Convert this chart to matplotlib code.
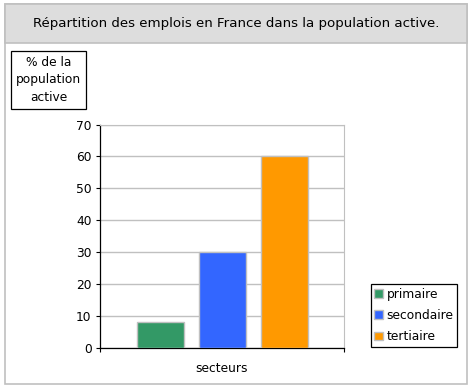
import matplotlib
matplotlib.use("Agg")
import matplotlib.pyplot as plt
import matplotlib.patches as mpatches

categories = ["primaire", "secondaire", "tertiaire"]
values = [8, 30, 60]
colors = ["#339966", "#3366ff", "#ff9900"]
yticks = [0, 10, 20, 30, 40, 50, 60, 70]

title = "Répartition des emplois en France dans la population active."
ylabel = "% de la\npopulation\nactive"
xlabel = "secteurs"

W, H = 472, 389
fs = 8.8
plt.rcParams.update({"font.family": "DejaVu Sans", "font.size": fs})
fig = plt.figure(figsize=(W / 100, H / 100), dpi=100)


def fx(px):
    return px / W


def fy(py):
    return 1 - py / H


gray = "#c0c0c0"

# outer frame and title band
fig.patches.append(mpatches.Rectangle((fx(5), fy(384)), fx(462), (384 - 4) / H,
                                      transform=fig.transFigure, facecolor="white",
                                      edgecolor=gray, linewidth=1.2, zorder=-2))
fig.patches.append(mpatches.Rectangle((fx(5), fy(43)), fx(462), 39 / H,
                                      transform=fig.transFigure, facecolor="#dddddd",
                                      edgecolor=gray, linewidth=1.2, zorder=-1))
fig.text(fx(236), fy(23.5), title, ha="center", va="center", fontsize=9.6)

# axes
ax = fig.add_axes([fx(100), fy(348), fx(244), (348 - 124.5) / H])
ax.set_zorder(2)
x = list(range(len(values)))
ax.bar(x, values, width=0.76, color=colors, edgecolor=gray, linewidth=1.0, zorder=3)
ax.set_xlim(-0.976, 2.96)
ax.set_ylim(0, 70)
ax.set_yticks(yticks)
ax.yaxis.grid(True, color=gray, linewidth=1.0, zorder=0)
ax.set_axisbelow(True)
ax.set_xticks([-0.976, 2.96])
ax.set_xticklabels(["", ""])
ax.tick_params(axis="both", direction="out", length=3, width=0.8, color="black",
               labelsize=fs, pad=3)
ax.spines["top"].set_color(gray)
ax.spines["right"].set_color(gray)
ax.spines["left"].set_linewidth(0.9)
ax.spines["bottom"].set_linewidth(0.9)
ax.set_xlabel(xlabel, fontsize=fs, labelpad=4)

# y label box
fig.text(fx(48.5), fy(80), ylabel, ha="center", va="center", fontsize=fs,
         linespacing=1.45, zorder=3,
         bbox=dict(boxstyle="square,pad=0.38", facecolor="white", edgecolor="black", linewidth=0.9))

# legend
handles = [mpatches.Patch(facecolor=c, edgecolor=gray, label=l) for c, l in zip(colors, categories)]
leg = fig.legend(handles=handles, loc="upper left",
                 bbox_to_anchor=(fx(370.5), fy(284)), fancybox=False,
                 edgecolor="black", framealpha=1, fontsize=fs,
                 handlelength=0.7, handleheight=0.7, handletextpad=0.3,
                 borderpad=0.3, labelspacing=0.68, borderaxespad=0)
leg.get_frame().set_linewidth(0.9)
leg.set_zorder(3)

fig.savefig("out.png", dpi=100)
